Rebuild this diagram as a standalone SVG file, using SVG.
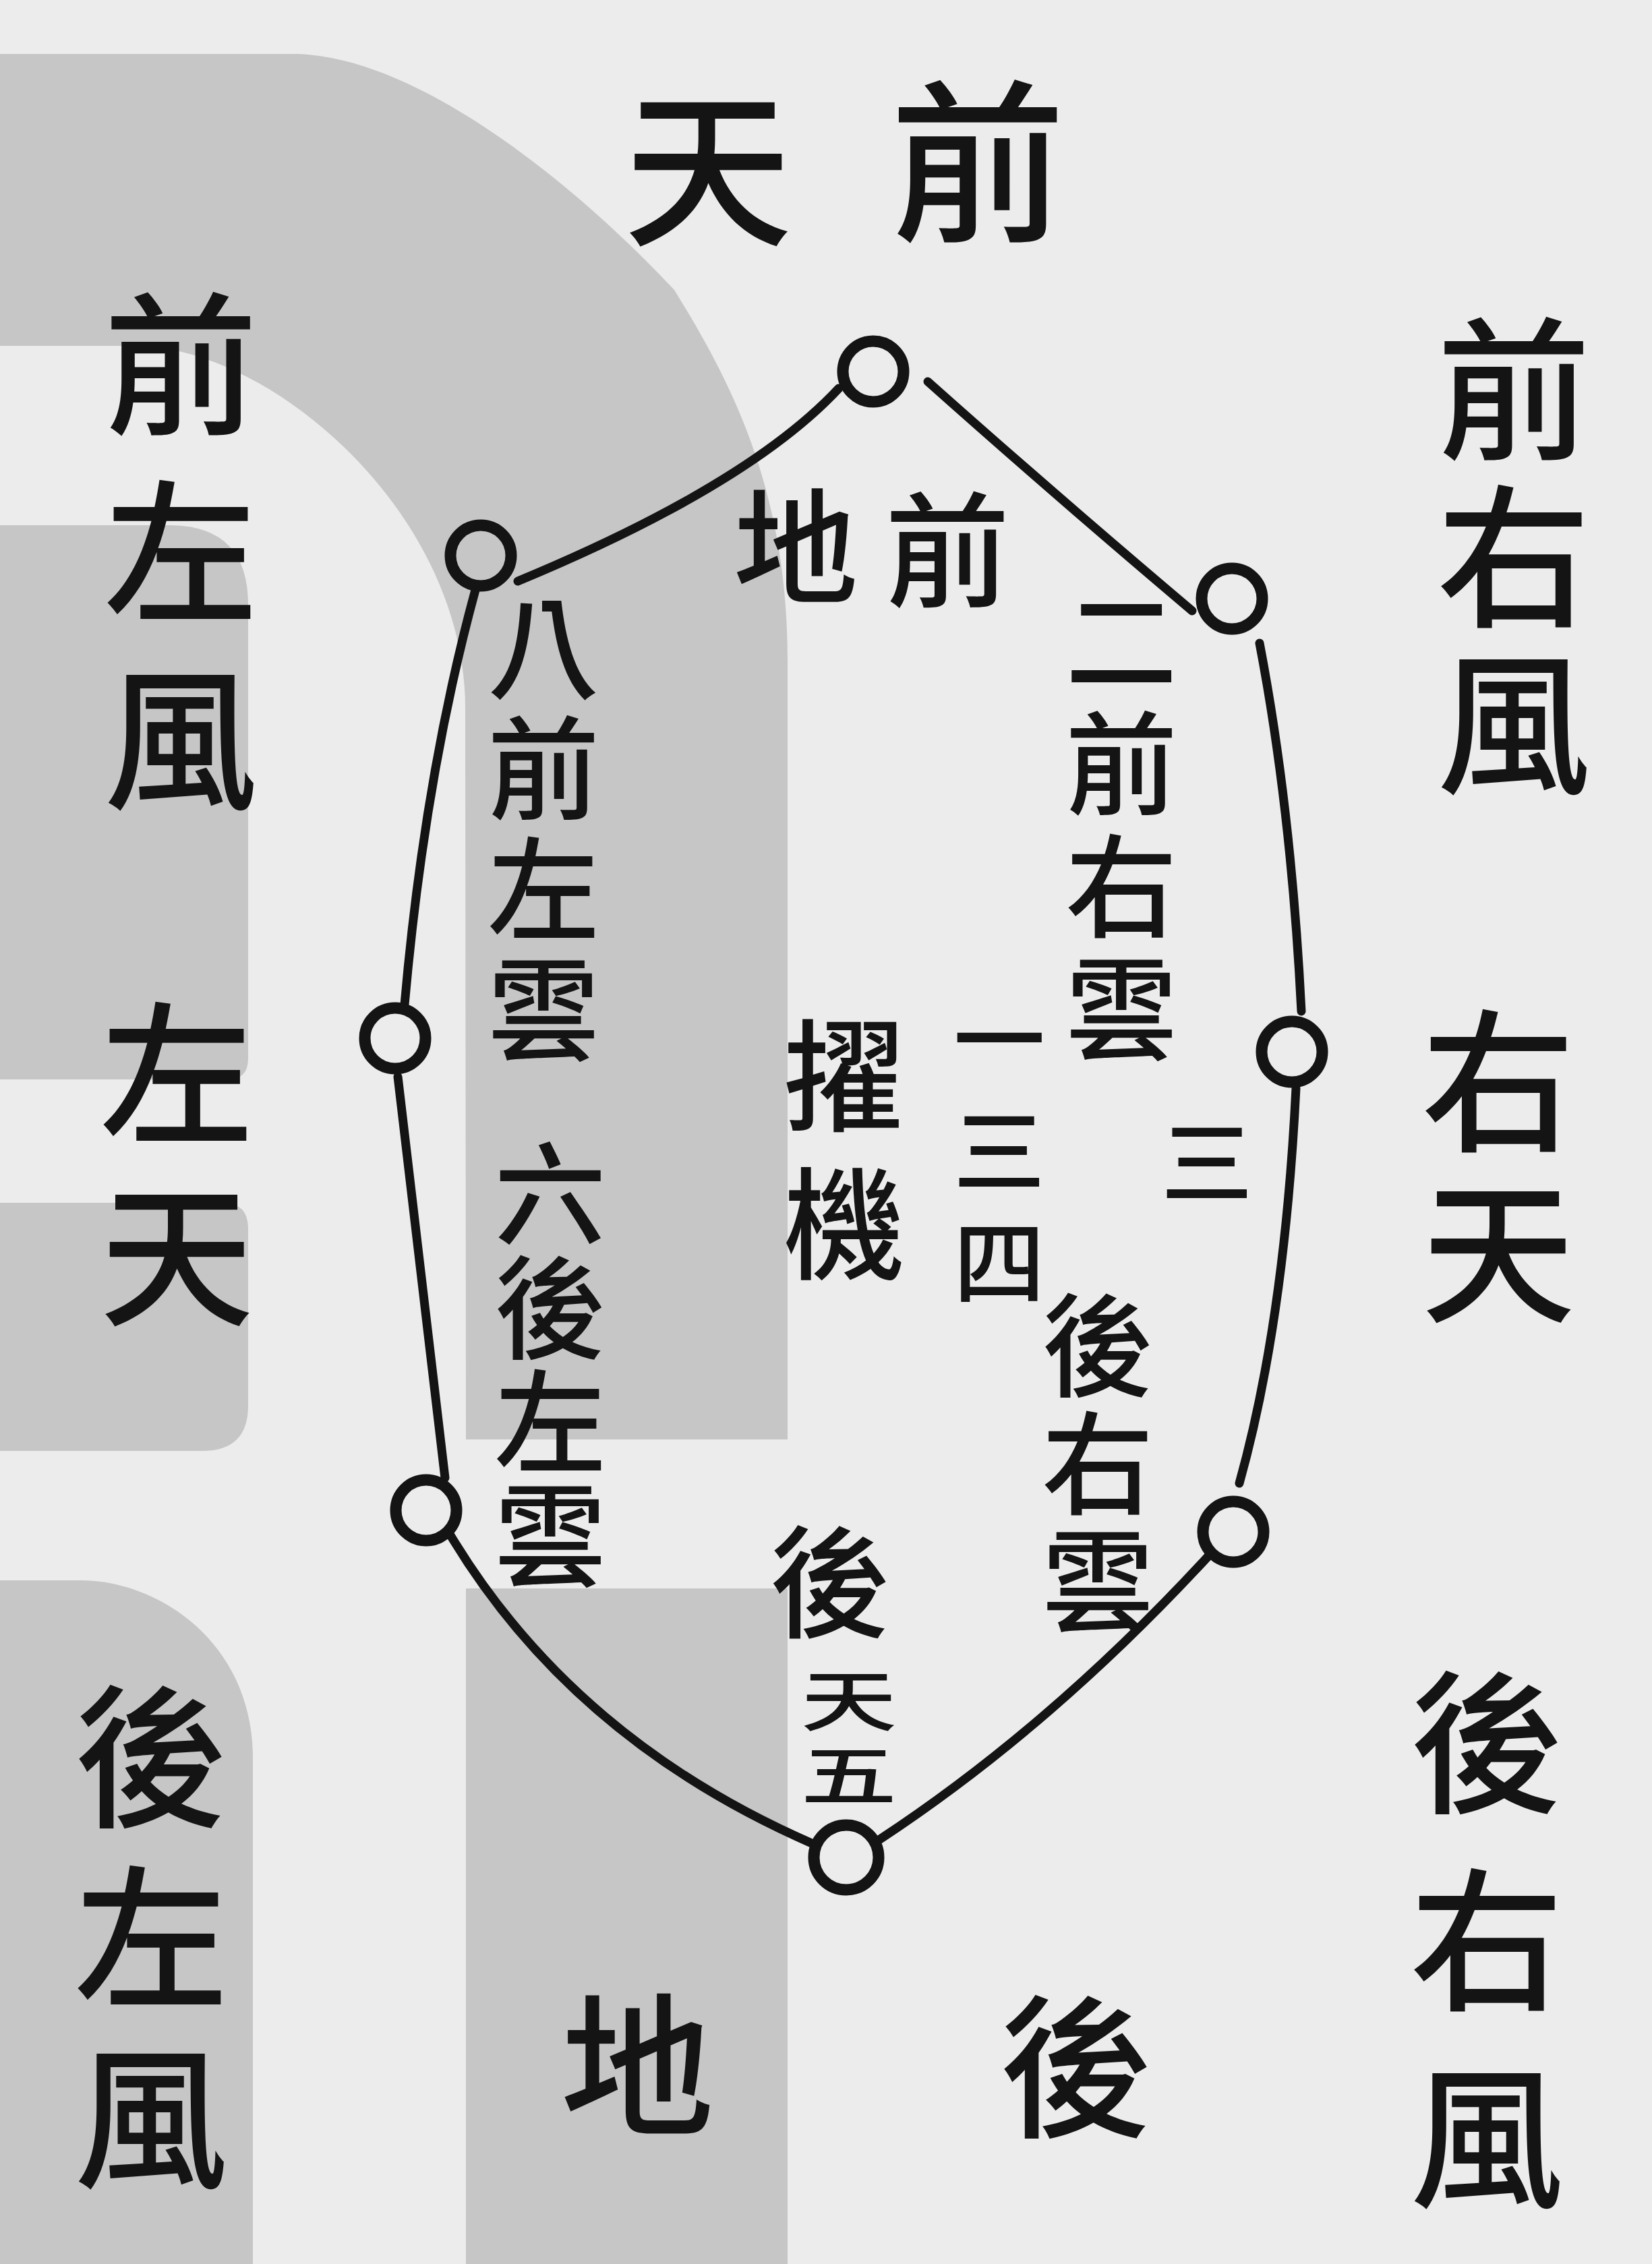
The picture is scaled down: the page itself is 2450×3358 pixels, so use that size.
<svg xmlns="http://www.w3.org/2000/svg" width="2450" height="3358" viewBox="0 0 2450 3358">
<style>
.bg{fill:#ececec}
.sh{fill:#c6c6c6}
.t{font-family:"Noto Sans CJK TC","Noto Sans CJK SC",sans-serif;fill:#141414;font-weight:500}
.h{text-anchor:middle;dominant-baseline:central}
.v{writing-mode:vertical-rl;text-orientation:upright;text-anchor:start}
.big{font-size:228px}
.mid{font-size:166px}
.sm{font-size:136px}
.edge{fill:none;stroke:#141414;stroke-width:13;stroke-linecap:round}
.node{fill:none;stroke:#141414;stroke-width:17}
</style>
<rect class="bg" x="0" y="0" width="2450" height="3358"/>
<g id="shading">
<path class="sh" d="M0,80 L440,80 C620,85 850,270 1000,430 C1080,560 1168,720 1168,980 L1168,2135 L691,2135 L690,1050 C690,760 400,513 200,513 L0,513 Z"/>
<path class="sh" d="M0,779 L250,779 Q368,779 368,897 L368,1570 Q368,1601 338,1601 L0,1601 Z"/>
<path class="sh" d="M0,1784 L330,1784 Q368,1784 368,1822 L368,2085 Q368,2152 300,2152 L0,2152 Z"/>
<path class="sh" d="M0,2344 L120,2344 C230,2344 370,2430 375,2600 L375,3358 L0,3358 Z"/>
<rect class="sh" x="691" y="2356" width="477" height="1002"/>
</g>
<g id="connectors">
<path class="edge" d="M1244,576 Q1110,720 768,862"/>
<path class="edge" d="M1376,566 Q1560,730 1768,906"/>
<path class="edge" d="M1868,954 Q1915,1200 1930,1500"/>
<path class="edge" d="M1922,1614 Q1905,1960 1838,2200"/>
<path class="edge" d="M1793,2307 Q1560,2560 1305,2728"/>
<path class="edge" d="M1206,2735 Q850,2580 668,2277"/>
<path class="edge" d="M660,2192 Q620,1850 590,1597"/>
<path class="edge" d="M600,1490 Q630,1150 705,875"/>
</g>
<g id="node-top"><circle class="node" cx="1295" cy="551" r="45"/></g>
<g id="node-upper-left"><circle class="node" cx="713" cy="824" r="45"/></g>
<g id="node-upper-right"><circle class="node" cx="1827" cy="888" r="45"/></g>
<g id="node-mid-left"><circle class="node" cx="586" cy="1540" r="45"/></g>
<g id="node-mid-right"><circle class="node" cx="1916" cy="1560" r="45"/></g>
<g id="node-lower-left"><circle class="node" cx="632" cy="2240" r="45"/></g>
<g id="node-lower-right"><circle class="node" cx="1829" cy="2272" r="45"/></g>
<g id="node-bottom"><circle class="node" cx="1255" cy="2755" r="48"/></g>
<g id="outer-labels">
<text class="t h" x="1050" y="236" font-size="250">天</text>
<text class="t h" x="1450" y="225" font-size="260">前</text>
<text class="t v big" x="268" y="426" letter-spacing="50">前左風</text>
<text class="t v big" x="262" y="1478" letter-spacing="42">左天</text>
<text class="t v big" x="224" y="2491" letter-spacing="40">後左風</text>
<text class="t v big" x="2245" y="463" letter-spacing="20">前右風</text>
<text class="t v big" x="2222" y="1489" letter-spacing="26">右天</text>
<text class="t v big" x="2205" y="2470" letter-spacing="65">後右風</text>
<text class="t h big" x="945" y="3051">地</text>
<text class="t h big" x="1596" y="3053">後</text>
</g>
<g id="inner-labels">
<text class="t h" x="1180" y="800" font-size="185">地</text>
<text class="t h" x="1405" y="805" font-size="185">前</text>
<text class="t v mid" x="806" y="877" letter-spacing="13">八前左雲</text>
<text class="t v mid" x="816" y="1687" letter-spacing="3">六後左雲</text>
<text class="t v mid" x="1663" y="867" letter-spacing="16">二前右雲</text>
<text class="t h sm" x="1790" y="1715">三</text>
<text class="t v mid" x="1628" y="1912" letter-spacing="9">後右雲</text>
<text class="t v" x="1252" y="1505" font-size="180" letter-spacing="40">擢機</text>
<text class="t v sm" x="1482" y="1472" letter-spacing="30">一三四</text>
<text class="t h" x="1231" y="2335" font-size="180">後</text>
<text class="t v sm" transform="translate(1259,2473) scale(1.05,0.72)" x="0" y="0" letter-spacing="17">天五</text>
</g>
</svg>
